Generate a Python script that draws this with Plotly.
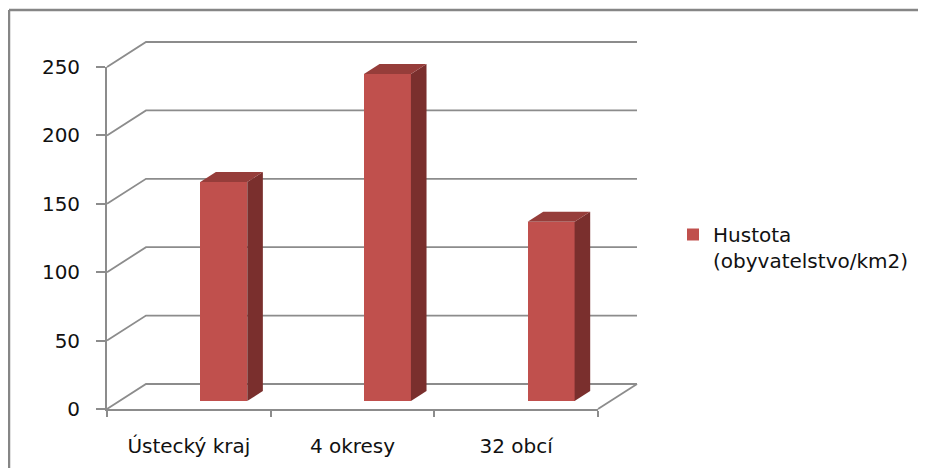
import plotly.graph_objects as go

# ---------------- data ----------------
categories = ["Ústecký kraj", "4 okresy", "32 obcí"]
hustota = [160, 239, 131]
series_name = "Hustota<br>(obyvatelstvo/km2)"
y_ticks = [0, 50, 100, 150, 200, 250]

# ---------------- layout constants (pixels, screenshot coords) ----------------
PAGE = 8                         # browser body margin
W, H = 926 - 2 * PAGE, 476 - 2 * PAGE
FRONT_L, FRONT_R = 107 - PAGE, 598 - PAGE   # front plane x extent
FRONT_T, FRONT_B = 67 - PAGE, 409 - PAGE    # y of 250 and of 0 on the front plane
Y_MAX = 250
DEPTH_PX = (39, 25)              # floor depth vector (px: right, up)

px_per_cat = (FRONT_R - FRONT_L) / len(categories)
px_per_val = (FRONT_B - FRONT_T) / Y_MAX

# whole-figure axes sharing the same data mapping as the front plane
bx_range = [(0 - FRONT_L) / px_per_cat - 0.5, (W - FRONT_L) / px_per_cat - 0.5]
by_range = [(FRONT_B - H) / px_per_val, FRONT_B / px_per_val]

DX = DEPTH_PX[0] / px_per_cat    # depth in category units
DY = DEPTH_PX[1] / px_per_val    # depth in value units

# bar geometry (relative)
BAR_OFFSET, BAR_WIDTH = 0.07, 0.287
T0, T1 = 0.32, 0.72              # bar depth span (fraction of floor depth)
BASE = DY * T0
BDX, BDY = DX * (T1 - T0), DY * (T1 - T0)

GRID = "#8c8c8c"
FRONT_C, SIDE_C, TOP_C = "#c0504d", "#7a2f2d", "#963d3a"
FONT = "DejaVu Sans"
TXT = "#111111"

fig = go.Figure()

# ---- back wall / side wall gridlines (subplot 1, bottom layer) ----
n = len(categories)
for v in y_ticks:
    fig.add_trace(go.Scatter(
        x=[-0.5, -0.5 + DX, n - 0.5 + DX], y=[v, v + DY, v + DY],
        mode="lines", line=dict(color=GRID, width=1.8),
        showlegend=False, hoverinfo="skip", xaxis="x", yaxis="y"))
# floor right edge
fig.add_trace(go.Scatter(
    x=[n - 0.5, n - 0.5 + DX], y=[0, DY], mode="lines",
    line=dict(color=GRID, width=1.8), showlegend=False, hoverinfo="skip",
    xaxis="x", yaxis="y"))

# ---- front faces of bars (subplot 2: front plane axes) ----
fig.add_trace(go.Bar(
    x=categories, y=hustota, base=[BASE] * n, offset=BAR_OFFSET, width=BAR_WIDTH,
    marker=dict(color=FRONT_C, line=dict(width=0)),
    name=series_name, xaxis="x2", yaxis="y2", showlegend=True))

# ---- side and top faces (subplot 3, top layer) ----
for i, val in enumerate(hustota):
    xl = i + BAR_OFFSET
    xr = xl + BAR_WIDTH
    yb = BASE
    yt = BASE + val
    fig.add_trace(go.Scatter(
        x=[xr, xr, xr + BDX, xr + BDX, xr], y=[yb, yt, yt + BDY, yb + BDY, yb],
        fill="toself", fillcolor=SIDE_C, mode="lines", line=dict(width=0, color=SIDE_C),
        showlegend=False, hoverinfo="skip", xaxis="x3", yaxis="y3"))
    fig.add_trace(go.Scatter(
        x=[xl, xr, xr + BDX, xl + BDX, xl], y=[yt, yt, yt + BDY, yt + BDY, yt],
        fill="toself", fillcolor=TOP_C, mode="lines", line=dict(width=0, color=TOP_C),
        showlegend=False, hoverinfo="skip", xaxis="x3", yaxis="y3"))

big_axis = dict(visible=False, showgrid=False, zeroline=False, fixedrange=True,
                automargin=False)

fig.update_layout(
    template="none",
    width=W, height=H, autosize=False,
    margin=dict(l=0, r=0, t=0, b=0, pad=0),
    paper_bgcolor="white", plot_bgcolor="rgba(0,0,0,0)",
    font=dict(family=FONT, size=20, color=TXT),
    xaxis=dict(domain=[0, 1], range=bx_range, anchor="y", **big_axis),
    yaxis=dict(domain=[0, 1], range=by_range, anchor="x", **big_axis),
    xaxis3=dict(domain=[0, 1], range=bx_range, anchor="y3", **big_axis),
    yaxis3=dict(domain=[0, 1], range=by_range, anchor="x3", **big_axis),
    xaxis2=dict(
        domain=[FRONT_L / W, FRONT_R / W], anchor="y2", type="category",
        categoryorder="array", categoryarray=categories,
        range=[-0.5, n - 0.5], tickson="boundaries", ticks="outside",
        ticklen=6, tickwidth=1.8, tickcolor=GRID, showline=True, linecolor=GRID,
        linewidth=1.8, showgrid=False, zeroline=False, ticklabelstandoff=18,
        automargin=False,
        tickfont=dict(family=FONT, size=20, color=TXT), fixedrange=True),
    yaxis2=dict(
        domain=[1 - FRONT_B / H, 1 - FRONT_T / H], anchor="x2",
        range=[0, Y_MAX], tickvals=y_ticks, ticks="outside", ticklen=9,
        tickwidth=1.8, tickcolor=GRID, showline=True, linecolor=GRID, linewidth=1.8,
        showgrid=False, zeroline=False, ticklabelstandoff=12, automargin=False,
        tickfont=dict(family=FONT, size=20, color=TXT), fixedrange=True),
    legend=dict(x=(673 - PAGE) / W, y=1 - (215 - PAGE) / H, xanchor="left",
                yanchor="top", valign="top", bgcolor="rgba(0,0,0,0)",
                borderwidth=0, font=dict(family=FONT, size=20, color=TXT)),
    bargap=0,
    shapes=[
        dict(type="line", xref="paper", yref="paper", x0=(9 - PAGE) / W, x1=1,
             y0=1 - (10 - PAGE) / H, y1=1 - (10 - PAGE) / H,
             line=dict(color="#868686", width=2.5)),
        dict(type="line", xref="paper", yref="paper", x0=(9 - PAGE) / W,
             x1=(9 - PAGE) / W, y0=0, y1=1 - (10 - PAGE) / H,
             line=dict(color="#868686", width=2.5)),
    ],
)

fig.write_html("out.html")
